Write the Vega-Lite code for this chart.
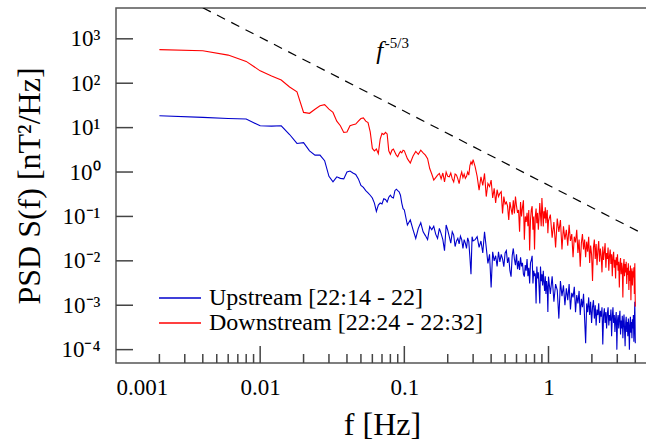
{
  "$schema": "https://vega.github.io/schema/vega-lite/v6.json",
  "width": 532,
  "height": 355,
  "autosize": {"type": "none"},
  "padding": {"left": 116, "top": 8, "right": 0, "bottom": 84},
  "background": "white",
  "config": {
    "view": {"stroke": "#555555", "strokeWidth": 1.5},
    "font": "Liberation Serif",
    "axis": {
      "domain": false,
      "grid": false,
      "ticks": false,
      "tickSize": 0,
      "labelFont": "Liberation Serif",
      "labelFontSize": 23,
      "labelColor": "black",
      "titleFont": "Liberation Serif",
      "titleFontSize": 32,
      "titleFontWeight": "normal",
      "titleColor": "black"
    }
  },
  "datasets": {
    "psd": [
      {"f":0.002,"u":18.5,"d":570},{"f":0.004,"u":17,"d":540},{"f":0.006,"u":16,"d":430},{"f":0.008,"u":15.6,"d":310},
      {"f":0.01,"u":11,"d":190},{"f":0.012,"u":10.8,"d":145},{"f":0.014,"u":11,"d":118},{"f":0.016,"u":7,"d":82},
      {"f":0.018,"u":4.4,"d":64},{"f":0.02,"u":4.6,"d":22},{"f":0.022,"u":3,"d":21},{"f":0.024,"u":2.4,"d":26},
      {"f":0.026,"u":2.4,"d":31},{"f":0.028,"u":1.8,"d":33},{"f":0.03,"u":0.8,"d":26},{"f":0.032,"u":0.6,"d":22},
      {"f":0.034,"u":0.78,"d":14},{"f":0.036,"u":0.72,"d":11},{"f":0.038,"u":0.7,"d":7.8},{"f":0.04,"u":1,"d":8},
      {"f":0.042,"u":1.05,"d":11},{"f":0.044,"u":0.95,"d":11.6},{"f":0.046,"u":0.88,"d":12},{"f":0.048,"u":0.7,"d":14},
      {"f":0.05,"u":0.5,"d":16},{"f":0.052,"u":0.45,"d":16.5},{"f":0.054,"u":0.38,"d":14},{"f":0.056,"u":0.34,"d":13},
      {"f":0.058,"u":0.3,"d":8},{"f":0.06,"u":0.26,"d":3.4},{"f":0.062,"u":0.2,"d":3},{"f":0.064,"u":0.13,"d":3.3},
      {"f":0.066,"u":0.18,"d":2.6},{"f":0.068,"u":0.2,"d":5.5},{"f":0.07,"u":0.19,"d":7.4},{"f":0.072,"u":0.25,"d":7},
      {"f":0.074,"u":0.24,"d":7.8},{"f":0.076,"u":0.21,"d":7.2},{"f":0.078,"u":0.27,"d":3},{"f":0.08,"u":0.3,"d":2.5},
      {"f":0.082,"u":0.27,"d":3.1},{"f":0.084,"u":0.26,"d":3.3},{"f":0.086,"u":0.38,"d":2.8},{"f":0.088,"u":0.41,"d":2.4},
      {"f":0.09,"u":0.38,"d":2.2},{"f":0.092,"u":0.36,"d":2.6},{"f":0.094,"u":0.3,"d":2.9},{"f":0.096,"u":0.2,"d":2.7},
      {"f":0.098,"u":0.15,"d":3.1},{"f":0.1,"u":0.14,"d":3},
      {"f":0.105,"u":0.064,"d":2},{"f":0.11,"u":0.083,"d":1.6},{"f":0.115,"u":0.05,"d":2.3},{"f":0.12,"u":0.032,"d":2.9},
      {"f":0.125,"u":0.054,"d":2.5},{"f":0.13,"u":0.072,"d":3.1},{"f":0.135,"u":0.045,"d":2.7},{"f":0.14,"u":0.037,"d":2.4},
      {"f":0.145,"u":0.03,"d":2},{"f":0.15,"u":0.059,"d":1.2},{"f":0.155,"u":0.05,"d":0.9},{"f":0.16,"u":0.06,"d":0.66},
      {"f":0.165,"u":0.04,"d":0.75},{"f":0.17,"u":0.032,"d":0.85},{"f":0.175,"u":0.054,"d":0.93},{"f":0.18,"u":0.041,"d":0.7},
      {"f":0.185,"u":0.03,"d":0.95},{"f":0.19,"u":0.017,"d":0.6},{"f":0.195,"u":0.064,"d":1},{"f":0.2,"u":0.049,"d":0.8},
      {"f":0.205,"u":0.035,"d":0.78},{"f":0.21,"u":0.025,"d":0.95},{"f":0.215,"u":0.045,"d":0.7},{"f":0.22,"u":0.038,"d":0.6},
      {"f":0.225,"u":0.021,"d":0.9},{"f":0.23,"u":0.028,"d":0.85},{"f":0.235,"u":0.032,"d":0.7},{"f":0.24,"u":0.024,"d":0.55},
      {"f":0.245,"u":0.036,"d":0.8},{"f":0.25,"u":0.03,"d":1},{"f":0.255,"u":0.019,"d":0.75},{"f":0.26,"u":0.03,"d":0.9},
      {"f":0.265,"u":0.025,"d":0.72},{"f":0.27,"u":0.019,"d":0.8},{"f":0.275,"u":0.033,"d":1},{"f":0.28,"u":0.027,"d":0.85},
      {"f":0.285,"u":0.012,"d":1.4},{"f":0.29,"u":0.005,"d":1.7},{"f":0.295,"u":0.035,"d":1.5},{"f":0.3,"u":0.028,"d":1.9},
      {"f":0.31,"u":0.03,"d":1.3},{"f":0.32,"u":0.035,"d":0.8},{"f":0.33,"u":0.02,"d":0.39},{"f":0.34,"u":0.028,"d":0.78},
      {"f":0.35,"u":0.015,"d":0.5},{"f":0.36,"u":0.045,"d":0.93},{"f":0.37,"u":0.02,"d":0.28},{"f":0.38,"u":0.0087,"d":0.55},
      {"f":0.39,"u":0.014,"d":0.47},{"f":0.4,"u":0.0025,"d":0.66},{"f":0.41,"u":0.016,"d":0.26},{"f":0.42,"u":0.01,"d":0.43},
      {"f":0.43,"u":0.013,"d":0.2},{"f":0.44,"u":0.0075,"d":0.4},{"f":0.45,"u":0.016,"d":0.28},{"f":0.46,"u":0.0095,"d":0.33},
      {"f":0.47,"u":0.014,"d":0.36},{"f":0.48,"u":0.011,"d":0.117},{"f":0.49,"u":0.0074,"d":0.28},{"f":0.5,"u":0.015,"d":0.19},
      {"f":0.51,"u":0.017,"d":0.21},{"f":0.52,"u":0.009,"d":0.17},{"f":0.53,"u":0.012,"d":0.083},{"f":0.54,"u":0.006,"d":0.21},
      {"f":0.55,"u":0.0044,"d":0.15},{"f":0.56,"u":0.013,"d":0.11},{"f":0.57,"u":0.019,"d":0.23},{"f":0.58,"u":0.011,"d":0.117},
      {"f":0.59,"u":0.008,"d":0.28},{"f":0.6,"u":0.014,"d":0.17},{"f":0.61,"u":0.0065,"d":0.12},{"f":0.62,"u":0.01,"d":0.14},
      {"f":0.63,"u":0.0062,"d":0.045},{"f":0.64,"u":0.012,"d":0.21},{"f":0.65,"u":0.0075,"d":0.1},{"f":0.66,"u":0.009,"d":0.16},
      {"f":0.67,"u":0.005,"d":0.23},{"f":0.68,"u":0.0044,"d":0.03},{"f":0.69,"u":0.008,"d":0.1},{"f":0.7,"u":0.006,"d":0.075},
      {"f":0.71,"u":0.011,"d":0.12},{"f":0.72,"u":0.0045,"d":0.06},{"f":0.73,"u":0.007,"d":0.14},{"f":0.74,"u":0.0031,"d":0.017},
      {"f":0.75,"u":0.009,"d":0.083},{"f":0.76,"u":0.0104,"d":0.14},{"f":0.77,"u":0.013,"d":0.17},{"f":0.78,"u":0.0031,"d":0.05},
      {"f":0.79,"u":0.006,"d":0.1},{"f":0.8,"u":0.0045,"d":0.018},{"f":0.81,"u":0.0052,"d":0.1},{"f":0.82,"u":0.0011,"d":0.15},
      {"f":0.83,"u":0.0074,"d":0.07},{"f":0.84,"u":0.004,"d":0.12},{"f":0.85,"u":0.0055,"d":0.05},{"f":0.86,"u":0.0026,"d":0.09},
      {"f":0.87,"u":0.0011,"d":0.2},{"f":0.88,"u":0.0074,"d":0.11},{"f":0.89,"u":0.0035,"d":0.06},{"f":0.9,"u":0.005,"d":0.26},
      {"f":0.91,"u":0.0028,"d":0.13},{"f":0.92,"u":0.006,"d":0.059},{"f":0.93,"u":0.0033,"d":0.13},{"f":0.94,"u":0.0021,"d":0.09},
      {"f":0.95,"u":0.0045,"d":0.16},{"f":0.96,"u":0.0018,"d":0.07},{"f":0.97,"u":0.0035,"d":0.11},{"f":0.98,"u":0.0026,"d":0.14},
      {"f":0.99,"u":0.0007,"d":0.042},{"f":1,"u":0.0044,"d":0.08},
      {"f":1.03,"u":0.0018,"d":0.11},{"f":1.06,"u":0.0045,"d":0.033},{"f":1.09,"u":0.0012,"d":0.075},{"f":1.12,"u":0.003,"d":0.02},
      {"f":1.15,"u":0.0022,"d":0.09},{"f":1.18,"u":0.0005,"d":0.045},{"f":1.21,"u":0.0035,"d":0.083},{"f":1.24,"u":0.0016,"d":0.018},
      {"f":1.27,"u":0.0028,"d":0.06},{"f":1.3,"u":0.001,"d":0.03},{"f":1.33,"u":0.0024,"d":0.05},{"f":1.36,"u":0.0013,"d":0.022},
      {"f":1.39,"u":0.003,"d":0.065},{"f":1.42,"u":0.0008,"d":0.028},{"f":1.45,"u":0.0019,"d":0.04},{"f":1.48,"u":0.0015,"d":0.012},
      {"f":1.51,"u":0.0026,"d":0.035},{"f":1.54,"u":0.0007,"d":0.026},{"f":1.57,"u":0.0017,"d":0.05},{"f":1.6,"u":0.0011,"d":0.015},
      {"f":1.63,"u":0.0021,"d":0.03},{"f":1.66,"u":0.0006,"d":0.0074},{"f":1.69,"u":0.0014,"d":0.025},{"f":1.72,"u":0.0009,"d":0.04},
      {"f":1.75,"u":0.0018,"d":0.018},{"f":1.78,"u":0.0005,"d":0.03},{"f":1.81,"u":0.00014,"d":0.012},{"f":1.84,"u":0.0011,"d":0.027},
      {"f":1.87,"u":0.0007,"d":0.016},{"f":1.9,"u":0.0015,"d":0.035},{"f":1.93,"u":0.0006,"d":0.009},{"f":1.96,"u":0.0012,"d":0.022},
      {"f":1.99,"u":0.0004,"d":0.014},{"f":2.02,"u":0.0009,"d":0.0035},{"f":2.05,"u":0.0013,"d":0.02},{"f":2.08,"u":0.0005,"d":0.03},
      {"f":2.11,"u":0.001,"d":0.011},{"f":2.14,"u":0.00035,"d":0.024},{"f":2.17,"u":0.0008,"d":0.008},{"f":2.2,"u":0.0006,"d":0.017},
      {"f":2.23,"u":0.0011,"d":0.028},{"f":2.26,"u":0.0004,"d":0.0095},{"f":2.29,"u":0.00075,"d":0.019},{"f":2.32,"u":0.00055,"d":0.013},
      {"f":2.35,"u":0.0009,"d":0.0055},{"f":2.38,"u":0.00013,"d":0.021},{"f":2.41,"u":0.0006,"d":0.0105},{"f":2.44,"u":0.00085,"d":0.016},
      {"f":2.47,"u":0.0004,"d":0.025},{"f":2.5,"u":0.0007,"d":0.007},{"f":2.53,"u":0.0003,"d":0.015},{"f":2.56,"u":0.00065,"d":0.011},
      {"f":2.59,"u":0.0009,"d":0.02},{"f":2.62,"u":0.00035,"d":0.006},{"f":2.65,"u":0.0006,"d":0.013},{"f":2.68,"u":0.00045,"d":0.018},
      {"f":2.71,"u":0.0008,"d":0.0085},{"f":2.74,"u":0.0002,"d":0.014},{"f":2.77,"u":0.00055,"d":0.0045},{"f":2.8,"u":0.0009,"d":0.012},
      {"f":2.83,"u":0.0004,"d":0.016},{"f":2.86,"u":0.0006,"d":0.007},{"f":2.89,"u":0.00025,"d":0.0105},{"f":2.92,"u":0.0005,"d":0.004},
      {"f":2.95,"u":0.0007,"d":0.012},{"f":2.98,"u":0.0001,"d":0.008},{"f":3.01,"u":0.00045,"d":0.014},{"f":3.04,"u":0.0006,"d":0.006},
      {"f":3.07,"u":0.0003,"d":0.0095},{"f":3.1,"u":0.00052,"d":0.0025},{"f":3.13,"u":0.00075,"d":0.008},{"f":3.16,"u":0.00022,"d":0.0115},
      {"f":3.19,"u":0.00045,"d":0.005},{"f":3.22,"u":0.0003,"d":0.009},{"f":3.25,"u":0.00058,"d":0.0065},{"f":3.28,"u":0.00018,"d":0.0015},
      {"f":3.31,"u":0.0004,"d":0.0075},{"f":3.34,"u":0.00062,"d":0.011},{"f":3.37,"u":0.00028,"d":0.0045},{"f":3.4,"u":0.00012,"d":0.0085},
      {"f":3.43,"u":0.0004,"d":0.0055},{"f":3.46,"u":0.00055,"d":0.0095},{"f":3.49,"u":0.00025,"d":0.003},{"f":3.52,"u":0.00042,"d":0.007},
      {"f":3.55,"u":0.0002,"d":0.0048},{"f":3.58,"u":0.0005,"d":0.0088},{"f":3.61,"u":0.00032,"d":0.0022},{"f":3.64,"u":0.0001,"d":0.006},
      {"f":3.67,"u":0.00038,"d":0.0035},{"f":3.7,"u":0.00055,"d":0.0078},{"f":3.73,"u":0.00024,"d":0.0013},{"f":3.76,"u":0.00042,"d":0.0052},
      {"f":3.79,"u":0.00018,"d":0.0068},{"f":3.82,"u":0.00048,"d":0.0028},{"f":3.85,"u":0.0003,"d":0.0058},{"f":3.88,"u":0.0006,"d":0.0042},
      {"f":3.91,"u":0.00015,"d":0.0072},{"f":3.94,"u":0.0004,"d":0.0018},{"f":3.97,"u":0.0012,"d":0.0088},{"f":4,"u":0.00014,"d":0.00093}
    ],
    "ref": [{"f": 0.004, "v": 5000}, {"f": 4.4, "v": 0.0426}],
    "note": [{"f": 0.0676, "v": 351}],
    "ytick": [{"v": 0.0001}, {"v": 0.001}, {"v": 0.01}, {"v": 0.1}, {"v": 1}, {"v": 10}, {"v": 100}, {"v": 1000}],
    "xmajor": [{"f": 0.01}, {"f": 0.1}, {"f": 1}],
    "xminor": [
      {"f": 0.002}, {"f": 0.003}, {"f": 0.004}, {"f": 0.005}, {"f": 0.006}, {"f": 0.007}, {"f": 0.008}, {"f": 0.009},
      {"f": 0.02}, {"f": 0.03}, {"f": 0.04}, {"f": 0.05}, {"f": 0.06}, {"f": 0.07}, {"f": 0.08}, {"f": 0.09},
      {"f": 0.2}, {"f": 0.3}, {"f": 0.4}, {"f": 0.5}, {"f": 0.6}, {"f": 0.7}, {"f": 0.8}, {"f": 0.9},
      {"f": 2}, {"f": 3}, {"f": 4}
    ]
  },
  "layer": [
    {
      "data": {"name": "psd"},
      "transform": [{"fold": ["u", "d"], "as": ["k", "v"]}],
      "mark": {"type": "line", "strokeWidth": 1.1, "clip": true},
      "encoding": {
        "x": {
          "field": "f",
          "type": "quantitative",
          "scale": {"type": "log", "domain": [0.001, 4.9], "nice": false},
          "axis": {
            "values": [0.001, 0.01, 0.1, 1],
            "labelExpr": "toString(datum.value)",
            "labelPadding": 13,
            "title": "f [Hz]",
            "titlePadding": 10
          }
        },
        "y": {
          "field": "v",
          "type": "quantitative",
          "scale": {"type": "log", "domain": [0.00005, 4943], "nice": false},
          "axis": {
            "values": [0.0001, 0.001, 0.01, 0.1, 1, 10, 100, 1000],
            "labelExpr": "'10' + (datum.value < 1 ? '⁻' : '') + ['⁰','¹','²','³','⁴'][abs(round(log(datum.value) / LN10))]",
            "labelPadding": 16,
            "title": "PSD S(f) [nT²/Hz]",
            "titlePadding": 14
          }
        },
        "color": {
          "field": "k",
          "type": "nominal",
          "scale": {"domain": ["u", "d"], "range": ["#0000cc", "#ff0000"]},
          "legend": {
            "orient": "none",
            "legendX": 51,
            "legendY": 277,
            "title": null,
            "padding": 0,
            "symbolType": "M-1.75,0L1.75,0",
            "symbolSize": 576,
            "symbolStrokeWidth": 1.5,
            "labelOffset": 16,
            "labelFont": "Liberation Serif",
            "labelFontSize": 24,
            "labelLimit": 400,
            "labelColor": "black",
            "rowPadding": 0,
            "labelExpr": "datum.value == 'u' ? 'Upstream [22:14 - 22]' : 'Downstream [22:24 - 22:32]'"
          }
        }
      }
    },
    {
      "data": {"name": "ref"},
      "mark": {"type": "line", "color": "black", "strokeWidth": 1.2, "strokeDash": [9, 7], "clip": true},
      "encoding": {
        "x": {"field": "f", "type": "quantitative"},
        "y": {"field": "v", "type": "quantitative"}
      }
    },
    {
      "data": {"name": "ytick"},
      "mark": {"type": "tick", "orient": "horizontal", "color": "#444444", "opacity": 1, "size": 17, "thickness": 1.5, "xOffset": 8.5},
      "encoding": {
        "y": {"field": "v", "type": "quantitative"},
        "x": {"datum": 0.001, "type": "quantitative"}
      }
    },
    {
      "data": {"name": "xmajor"},
      "mark": {"type": "rule", "color": "#444444", "strokeWidth": 1.5},
      "encoding": {
        "x": {"field": "f", "type": "quantitative"},
        "y": {"datum": 0.00005, "type": "quantitative"},
        "y2": {"datum": 0.0001208}
      }
    },
    {
      "data": {"name": "xminor"},
      "mark": {"type": "rule", "color": "#444444", "strokeWidth": 1.5},
      "encoding": {
        "x": {"field": "f", "type": "quantitative"},
        "y": {"datum": 0.00005, "type": "quantitative"},
        "y2": {"datum": 0.0000797}
      }
    },
    {
      "data": {"name": "note"},
      "mark": {"type": "text", "text": "f", "font": "Liberation Serif", "fontStyle": "italic", "fontSize": 25, "align": "center", "baseline": "alphabetic"},
      "encoding": {
        "x": {"field": "f", "type": "quantitative"},
        "y": {"field": "v", "type": "quantitative"}
      }
    },
    {
      "data": {"name": "note"},
      "mark": {"type": "text", "text": "-5/3", "font": "Liberation Serif", "fontSize": 15, "align": "left", "baseline": "alphabetic", "dx": 5, "dy": -11},
      "encoding": {
        "x": {"field": "f", "type": "quantitative"},
        "y": {"field": "v", "type": "quantitative"}
      }
    }
  ]
}
